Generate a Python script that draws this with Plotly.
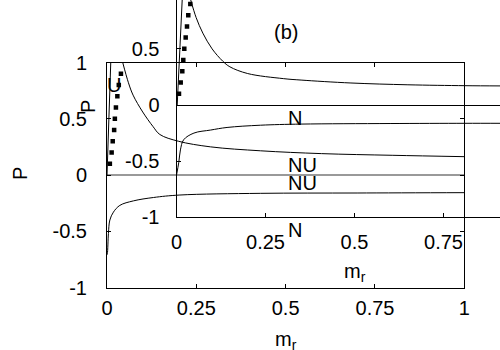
import plotly.graph_objects as go

# ---------------- data: main panel ----------------
main_thin_x = [0.0, 0.0105]
main_thin_y = [0.0, 1.0]

main_dot_x = [0.008, 0.013, 0.016, 0.020, 0.022, 0.025, 0.029, 0.033, 0.039]
main_dot_y = [0.1, 0.2, 0.3, 0.4, 0.5, 0.6, 0.7, 0.8, 0.9]

main_up_x = [0.044, 0.06, 0.073, 0.1, 0.129, 0.148, 0.2, 0.29, 0.43, 0.6, 0.8, 1.0]
main_up_y = [1.0, 0.82, 0.71, 0.56, 0.43, 0.36, 0.30, 0.25, 0.215, 0.19, 0.175, 0.163]

main_lo_x = [0.0, 0.001, 0.004, 0.008, 0.018, 0.036, 0.074, 0.13, 0.204, 0.429, 0.7, 1.0]
main_lo_y = [-0.71, -0.70, -0.52, -0.40, -0.33, -0.27, -0.23, -0.20, -0.178, -0.163, -0.16, -0.157]

# ---------------- data: inset (b) ----------------
ins_thin_x = [0.002, 0.016]
ins_thin_y = [0.0, 0.935]

ins_dot_x = [0.007, 0.0118, 0.0163, 0.0191, 0.0219, 0.0258, 0.0295, 0.0331, 0.0388]
ins_dot_y = [0.1, 0.2, 0.3, 0.4, 0.5, 0.6, 0.7, 0.8, 0.9]

ins_up_x = [0.04, 0.055, 0.074, 0.1, 0.13, 0.15, 0.2, 0.3, 0.35, 0.49, 0.65, 0.81, 0.91]
ins_up_y = [0.935, 0.78, 0.64, 0.5, 0.39, 0.34, 0.28, 0.235, 0.222, 0.196, 0.18, 0.172, 0.17]

ins_lo_x = [0.0, 0.0065, 0.011, 0.02, 0.049, 0.096, 0.142, 0.236, 0.35, 0.6, 0.81, 0.91]
ins_lo_y = [-0.625, -0.51, -0.40, -0.31, -0.25, -0.223, -0.20, -0.18, -0.17, -0.165, -0.163, -0.163]

# ticks
main_xticks = [0, 0.25, 0.5, 0.75, 1]
main_xtext = ["0", "0.25", "0.5", "0.75", "1"]
main_yticks = [-1, -0.5, 0, 0.5, 1]
main_ytext = ["-1", "-0.5", "0", "0.5", "1"]
ins_xticks = [0, 0.25, 0.5, 0.75]
ins_xtext = ["0", "0.25", "0.5", "0.75"]
ins_yticks = [-1, -0.5, 0, 0.5]
ins_ytext = ["-1", "-0.5", "0", "0.5"]

# region labels: (text, x_px, y_px)
labels = [("U", 113.5, 84.5), ("N", 286, 118), ("NU", 286, 164.5),
          ("NU", 286, 183.5), ("N", 286, 230)]

W, H = 500, 350
FONT = "Liberation Sans, Arial, sans-serif"
FS = 20


def px(x):
    return x / W


def py(y):
    return (H - y) / H


line = dict(color="black", width=1)
fig = go.Figure()

# main traces
fig.add_trace(go.Scatter(x=main_thin_x, y=main_thin_y, mode="lines", line=line, xaxis="x", yaxis="y"))
fig.add_trace(go.Scatter(x=main_up_x, y=main_up_y, mode="lines", line=dict(line, shape="spline"), xaxis="x", yaxis="y"))
fig.add_trace(go.Scatter(x=main_lo_x, y=main_lo_y, mode="lines", line=dict(line, shape="spline"), xaxis="x", yaxis="y"))
fig.add_trace(go.Scatter(x=main_dot_x, y=main_dot_y, mode="markers",
                         marker=dict(symbol="square", size=4.5, color="black"), xaxis="x", yaxis="y"))
# inset traces
fig.add_trace(go.Scatter(x=ins_thin_x, y=ins_thin_y, mode="lines", line=line, xaxis="x2", yaxis="y2"))
fig.add_trace(go.Scatter(x=ins_up_x, y=ins_up_y, mode="lines", line=dict(line, shape="spline"), xaxis="x2", yaxis="y2"))
fig.add_trace(go.Scatter(x=ins_lo_x, y=ins_lo_y, mode="lines", line=dict(line, shape="spline"), xaxis="x2", yaxis="y2"))
fig.add_trace(go.Scatter(x=ins_dot_x, y=ins_dot_y, mode="markers",
                         marker=dict(symbol="square", size=4.5, color="black"), xaxis="x2", yaxis="y2"))

axis_common = dict(showgrid=False, showline=True, linecolor="black", linewidth=1,
                   ticks="inside", ticklen=4, tickcolor="black", tickwidth=1, automargin=False,
                   tickfont=dict(family=FONT, size=FS, color="black"))

annotations = []
for t, x, y in labels:
    annotations.append(dict(text=t, x=px(x), y=py(y), xref="paper", yref="paper",
                            xanchor="left" if t != "U" else "center", yanchor="middle",
                            showarrow=False, font=dict(family=FONT, size=FS, color="black")))
annotations += [
    dict(text="(b)", x=px(286), y=py(32), xref="paper", yref="paper", showarrow=False,
         xanchor="center", yanchor="middle", font=dict(family=FONT, size=FS, color="black")),
    dict(text="m<sub>r</sub>", x=px(286), y=py(340), xref="paper", yref="paper", showarrow=False,
         xanchor="center", yanchor="middle", font=dict(family=FONT, size=FS, color="black")),
    dict(text="m<sub>r</sub>", x=px(355), y=py(272), xref="paper", yref="paper", showarrow=False,
         xanchor="center", yanchor="middle", font=dict(family=FONT, size=FS, color="black")),
    dict(text="P", x=px(20), y=py(174), xref="paper", yref="paper", showarrow=False, textangle=-90,
         xanchor="center", yanchor="middle", font=dict(family=FONT, size=FS, color="black")),
    dict(text="P", x=px(88), y=py(107), xref="paper", yref="paper", showarrow=False, textangle=-90,
         xanchor="center", yanchor="middle", font=dict(family=FONT, size=FS, color="black")),
]

fig.update_layout(
    width=W, height=H, margin=dict(l=0, r=0, t=0, b=0, autoexpand=False),
    paper_bgcolor="white", plot_bgcolor="rgba(0,0,0,0)", showlegend=False,
    xaxis=dict(axis_common, domain=[px(107), px(464.3)], range=[0, 1], mirror="ticks",
               tickvals=main_xticks, ticktext=main_xtext, zeroline=False, ticklabelstandoff=2),
    yaxis=dict(axis_common, domain=[py(287.5), py(62.5)], range=[-1, 1], mirror="ticks",
               tickvals=main_yticks, ticktext=main_ytext, zeroline=True, zerolinecolor="#999999",
               zerolinewidth=1.5, ticklabelstandoff=15),
    xaxis2=dict(axis_common, domain=[px(176.5), 1.0], range=[0, (W - 176.5) / 356.0], anchor="y2",
                tickvals=ins_xticks, ticktext=ins_xtext, zeroline=False, ticklabelstandoff=7),
    yaxis2=dict(axis_common, domain=[py(217.3), 1.0], range=[-1, 105 / 112.3], anchor="x2",
                tickvals=ins_yticks, ticktext=ins_ytext, zeroline=True, zerolinecolor="black",
                zerolinewidth=1, ticklabelstandoff=12),
    annotations=annotations,
)

fig.write_html("out.html", post_script="document.body.style.margin='0';",
               config={"displayModeBar": False})
